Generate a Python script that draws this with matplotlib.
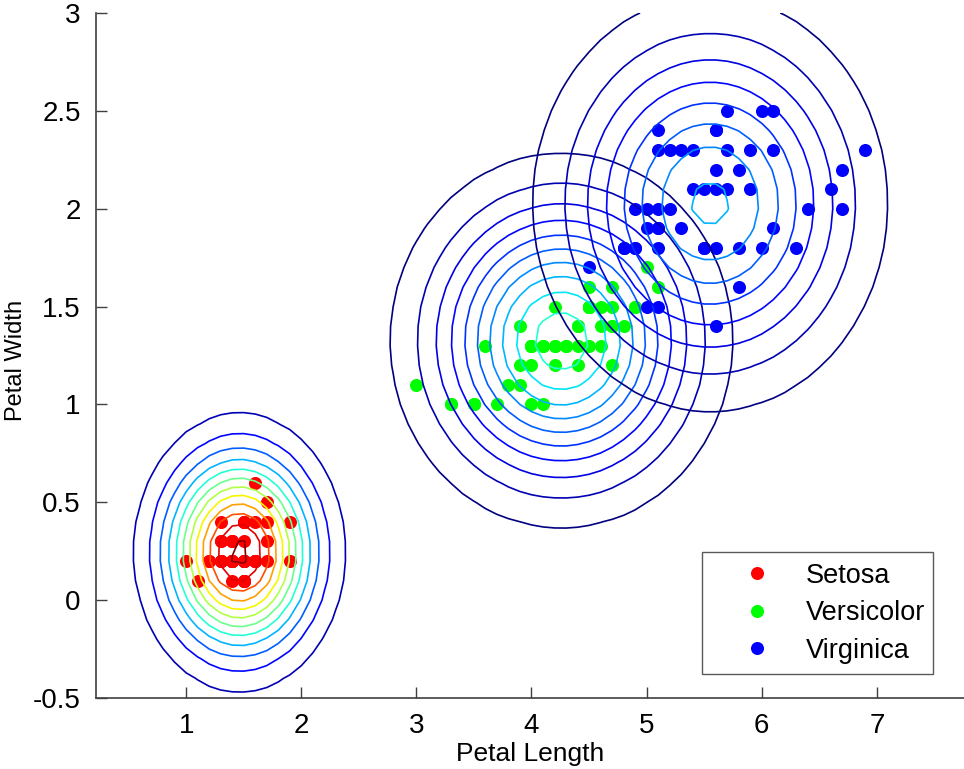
import numpy as np
import matplotlib
matplotlib.use("Agg")
import matplotlib.pyplot as plt
from matplotlib.colors import Normalize

plt.rcParams['font.family'] = ['Liberation Sans', 'DejaVu Sans']

species = ['Setosa', 'Versicolor', 'Virginica']
colors = ['#ff0000', '#00ff00', '#0000ff']

setosa_len = [1.4,1.4,1.3,1.5,1.4,1.7,1.4,1.5,1.4,1.5,1.5,1.6,1.4,1.1,1.2,1.5,1.3,1.4,1.7,1.5,
              1.7,1.5,1.0,1.7,1.9,1.6,1.6,1.5,1.4,1.6,1.6,1.5,1.5,1.4,1.5,1.2,1.3,1.5,1.3,1.5,
              1.3,1.3,1.3,1.6,1.9,1.4,1.6,1.4,1.5,1.4]
setosa_wid = [0.2,0.2,0.2,0.2,0.2,0.4,0.3,0.2,0.2,0.1,0.2,0.2,0.1,0.1,0.2,0.4,0.4,0.3,0.3,0.3,
              0.2,0.4,0.2,0.5,0.2,0.2,0.4,0.2,0.2,0.2,0.2,0.4,0.1,0.2,0.1,0.2,0.2,0.1,0.2,0.2,
              0.3,0.3,0.2,0.6,0.4,0.3,0.2,0.2,0.2,0.2]
versicolor_len = [4.7,4.5,4.9,4.0,4.6,4.5,4.7,3.3,4.6,3.9,3.5,4.2,4.0,4.7,3.6,4.4,4.5,4.1,4.5,3.9,
                  4.8,4.0,4.9,4.7,4.3,4.4,4.8,5.0,4.5,3.5,3.8,3.7,3.9,5.1,4.5,4.5,4.7,4.4,4.1,4.0,
                  4.4,4.6,4.0,3.3,4.2,4.2,4.2,4.3,3.0,4.1]
versicolor_wid = [1.4,1.5,1.5,1.3,1.5,1.3,1.6,1.0,1.3,1.4,1.0,1.5,1.0,1.4,1.3,1.4,1.5,1.0,1.5,1.1,
                  1.8,1.3,1.5,1.2,1.3,1.4,1.4,1.7,1.5,1.0,1.1,1.0,1.2,1.6,1.5,1.6,1.5,1.3,1.3,1.3,
                  1.2,1.4,1.2,1.0,1.3,1.2,1.3,1.3,1.1,1.3]
virginica_len = [6.0,5.1,5.9,5.6,5.8,6.6,4.5,6.3,5.8,6.1,5.1,5.3,5.5,5.0,5.1,5.3,5.5,6.7,6.9,5.0,
                 5.7,4.9,6.7,4.9,5.7,6.0,4.8,4.9,5.6,5.8,6.1,6.4,5.6,5.1,5.6,6.1,5.6,5.5,4.8,5.4,
                 5.6,5.1,5.1,5.9,5.7,5.2,5.0,5.2,5.4,5.1]
virginica_wid = [2.5,1.9,2.1,1.8,2.2,2.1,1.7,1.8,1.8,2.5,2.0,1.9,2.1,2.0,2.4,2.3,1.8,2.2,2.3,1.5,
                 2.3,2.0,2.0,1.8,2.1,1.8,1.8,1.8,2.1,1.6,1.9,2.0,2.2,1.5,1.4,2.3,2.4,1.8,1.8,2.1,
                 2.4,2.3,1.9,2.3,2.5,2.3,1.9,2.0,2.3,1.8]

# Gaussian model spreads and contour level steps
sigma_len = [0.41, 0.684, 0.751]
sigma_wid = [0.316, 0.439, 0.517]
level_step = [0.1, 0.05, 0.05]

x_ticks = [1, 2, 3, 4, 5, 6, 7]
y_ticks = [-0.5, 0, 0.5, 1, 1.5, 2, 2.5, 3]
y_tick_labels = ['-0.5', '0', '0.5', '1', '1.5', '2', '2.5', '3']

lengths = [setosa_len, versicolor_len, virginica_len]
widths = [setosa_wid, versicolor_wid, virginica_wid]

fig = plt.figure(figsize=(9.64, 7.69), dpi=100)
ax = fig.add_axes([96/964, 71/769, 1 - 96/964, (698-13)/769])

for L, W, c, name in zip(lengths, widths, colors, species):
    ax.plot(L, W, 'o', color=c, markersize=9.4, markeredgewidth=0, label=name, zorder=2)

gx = np.arange(0.0, 8.0001, 0.1)
gy = np.arange(-0.6, 3.0001, 0.1)
GX, GY = np.meshgrid(gx, gy)

Zs, levs = [], []
for L, W, sx, sy, st in zip(lengths, widths, sigma_len, sigma_wid, level_step):
    mx, my = np.mean(L), np.mean(W)
    Z = np.exp(-0.5 * (((GX - mx) / sx) ** 2 + ((GY - my) / sy) ** 2)) / (2 * np.pi * sx * sy)
    lv = np.arange(st, Z.max(), st)
    Zs.append(Z)
    levs.append(lv)

vmin = min(l.min() for l in levs)
vmax = max(l.max() for l in levs)
norm = Normalize(vmin=vmin, vmax=vmax)
for Z, lv in zip(Zs, levs):
    ax.contour(GX, GY, Z, levels=lv, cmap='jet', norm=norm, linewidths=1.2, zorder=3)

ax.set_xlim(0.217, 7.757)
ax.set_ylim(-0.5, 3)
ax.set_xticks(x_ticks)
ax.set_yticks(y_ticks)
ax.set_yticklabels(y_tick_labels)
for s in ['top', 'right']:
    ax.spines[s].set_visible(False)
for s in ['left', 'bottom']:
    ax.spines[s].set_color('#404040')
    ax.spines[s].set_linewidth(1.2)
ax.tick_params(direction='in', length=8, width=1.0, color='#404040', labelsize=20, pad=11)
ax.set_xlabel('Petal Length', fontsize=19, labelpad=2)
ax.set_ylabel('Petal Width', fontsize=17)
ax.yaxis.set_label_coords(-0.079, 0.493)

fs_leg = 19.5
leg = ax.legend(loc='upper left', bbox_to_anchor=((702-96)/868, (698-552)/685, (933-702)/868, 0.0),
                mode='expand', fontsize=fs_leg, frameon=True, fancybox=False, borderpad=0.4,
                handletextpad=0.18, labelspacing=0.42, borderaxespad=0, handlelength=3.26,
                markerscale=1.0)
leg.get_frame().set_edgecolor('#303030')
leg.get_frame().set_linewidth(1.0)

fig.savefig('out.png', dpi=100)
